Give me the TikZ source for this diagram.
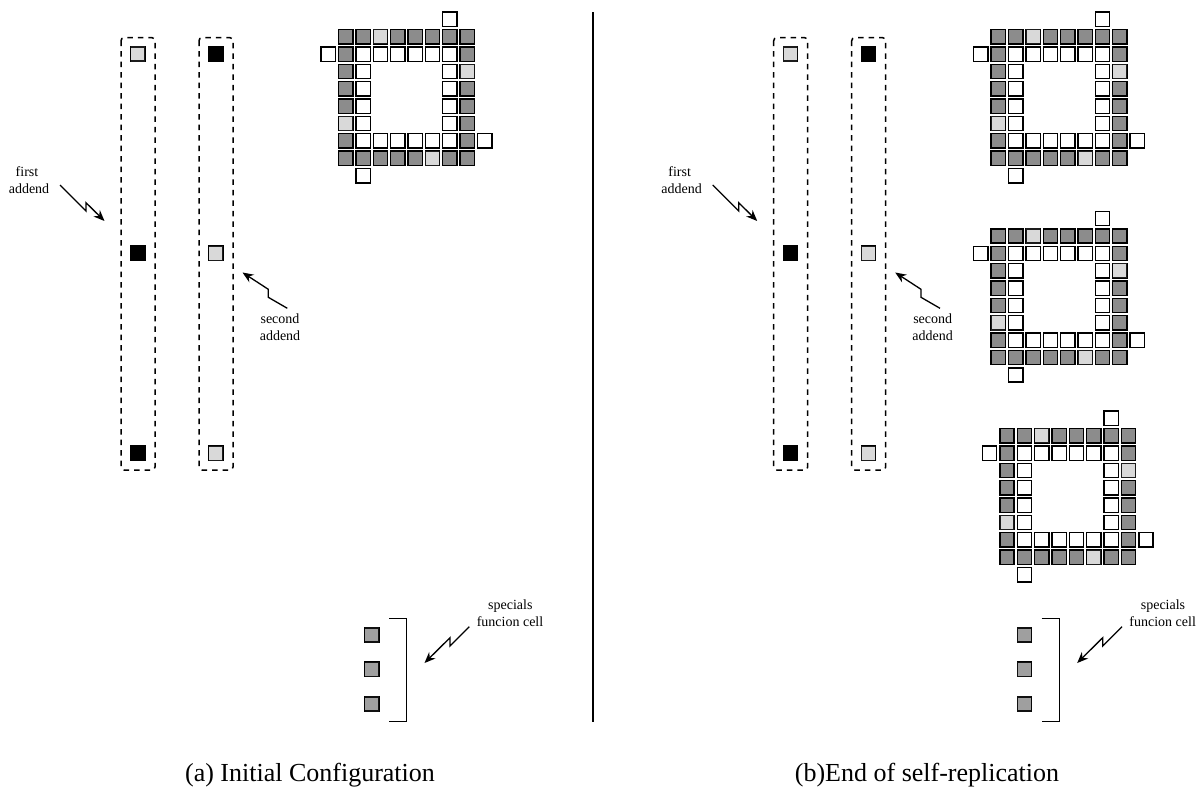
\documentclass[tikz,border=0pt]{standalone}
\usepackage{fontspec}
\setmainfont{Liberation Serif}
\usetikzlibrary{arrows.meta,patterns.meta}
\tikzset{
  cellbase/.style={draw=black,line width=1.4pt,minimum size=14.3pt,inner sep=0pt,outer sep=0pt,anchor=center},
  wcell/.style={cellbase,fill=white},
  gcell/.style={cellbase,fill=black!45},
  dcell/.style={cellbase,fill=black!4,postaction={pattern={Dots[distance=2pt,radius=.55pt]},pattern color=black!50}},
  scell/.style={cellbase,fill=black!28,postaction={pattern={Dots[distance=2pt,radius=.6pt]},pattern color=black!70}},
  bcell/.style={cellbase,fill=black},
  band/.style={draw=black,line width=1.5pt,dash pattern=on 5.5pt off 5pt,rounded corners=3pt},
  zap/.style={draw=black,line width=1.3pt,-{Stealth[length=11pt,width=9pt]}},
  lbl/.style={font=\fontsize{14}{16}\selectfont,inner sep=0pt},
  captext/.style={font=\fontsize{26}{30}\selectfont,inner sep=0pt,anchor=base},
  vrule/.style={draw=black,line width=1.4pt},
}
% #1 name prefix, #2 x of column 1, #3 y of row 1
\newcommand{\ringgrid}[3]{%
  \foreach \r in {1,...,8}{\foreach \c in {1,...,8}{%
    \pgfmathtruncatemacro{\k}{\c+100*\r}%
    \def\st{}%
    \ifnum\k=103 \def\st{dcell}\fi \ifnum\k=806 \def\st{dcell}\fi
    \ifnum\k=308 \def\st{dcell}\fi \ifnum\k=601 \def\st{dcell}\fi
    \ifx\st\empty
      \ifnum\r=1 \def\st{gcell}\fi \ifnum\r=8 \def\st{gcell}\fi
      \ifnum\c=1 \def\st{gcell}\fi \ifnum\c=8 \def\st{gcell}\fi
    \fi
    \ifx\st\empty
      \ifnum\r=2 \def\st{wcell}\fi \ifnum\r=7 \def\st{wcell}\fi
      \ifnum\c=2 \def\st{wcell}\fi \ifnum\c=7 \def\st{wcell}\fi
    \fi
    \ifx\st\empty\else
      \node[\st] (#1r\r c\c) at ({#2+(\c-1)*17.37},{#3+(\r-1)*17.37}) {};
    \fi
  }}%
  \node[wcell] (#1t) at ({#2+6*17.37},{#3-17.37}) {};
  \node[wcell] (#1l) at ({#2-17.37},{#3+17.37}) {};
  \node[wcell] (#1e) at ({#2+8*17.37},{#3+6*17.37}) {};
  \node[wcell] (#1b) at ({#2+17.37},{#3+8*17.37}) {};
}
% #1 prefix, #2 x offset
\newcommand{\panel}[2]{%
  \draw[band] (#2+121,37.7) rectangle (#2+155,470);
  \draw[band] (#2+199,37.7) rectangle (#2+233,470);
  \node[dcell] (#1a1) at (#2+137.7,54) {};
  \node[bcell] (#1a2) at (#2+137.7,253.3) {};
  \node[bcell] (#1a3) at (#2+137.7,453.3) {};
  \node[bcell] (#1b1) at (#2+215.7,54) {};
  \node[dcell] (#1b2) at (#2+215.7,253.3) {};
  \node[dcell] (#1b3) at (#2+215.7,453.3) {};
  \node[lbl] (#1first) at (#2+27,172) {first};
  \node[lbl] (#1addA) at (#2+29,189) {addend};
  \node[lbl] (#1second) at (#2+280,319) {second};
  \node[lbl] (#1addB) at (#2+280,336) {addend};
  \coordinate (#1fs) at (#2+60,185);
  \coordinate (#1fe) at (#2+104.5,221);
  \coordinate (#1ss) at (#2+287.3,308.3);
  \coordinate (#1se) at (#2+242.5,272.5);
  \draw[zap] (#1fs) -- (#2+86,211) -- (#2+86,202.7) -- (#1fe);
  \draw[zap] (#1ss) -- (#2+268.3,297.3) -- (#2+268.3,289.3) -- (#1se);
  \node[scell] (#1s1) at (#2+371.7,635) {};
  \node[scell] (#1s2) at (#2+371.7,669.3) {};
  \node[scell] (#1s3) at (#2+371.7,704) {};
  \draw[vrule] (#2+389,618.3) -- (#2+406.7,618.3) -- (#2+406.7,721.7) -- (#2+389,721.7);
  \node[lbl] (#1spec) at (#2+510.3,605.7) {specials};
  \node[lbl] (#1func) at (#2+510,622) {funcion cell};
  \coordinate (#1ps) at (#2+469.3,626.7);
  \coordinate (#1pe) at (#2+424.5,663);
  \draw[zap] (#1ps) -- (#2+450,646) -- (#2+450,637.7) -- (#1pe);
}
\begin{document}
\begin{tikzpicture}[x=1pt,y=-1pt]
\useasboundingbox (0,0) rectangle (1204,787);
\fill[white] (0,0) rectangle (1204,787);
\panel{L}{0}
\panel{R}{652.7}
\ringgrid{A}{345.7}{36.7}
\ringgrid{B}{998.3}{36.7}
\ringgrid{C}{998.3}{236}
\ringgrid{D}{1007}{435.7}
\coordinate (divT) at (593,12);
\coordinate (divB) at (593,722);
\draw[vrule] (divT) -- (divB);
\node[captext] (capa) at (310,781) {(a) Initial Configuration};
\node[captext] (capb) at (927,781) {(b)End of self-replication};
\end{tikzpicture}
\end{document}
